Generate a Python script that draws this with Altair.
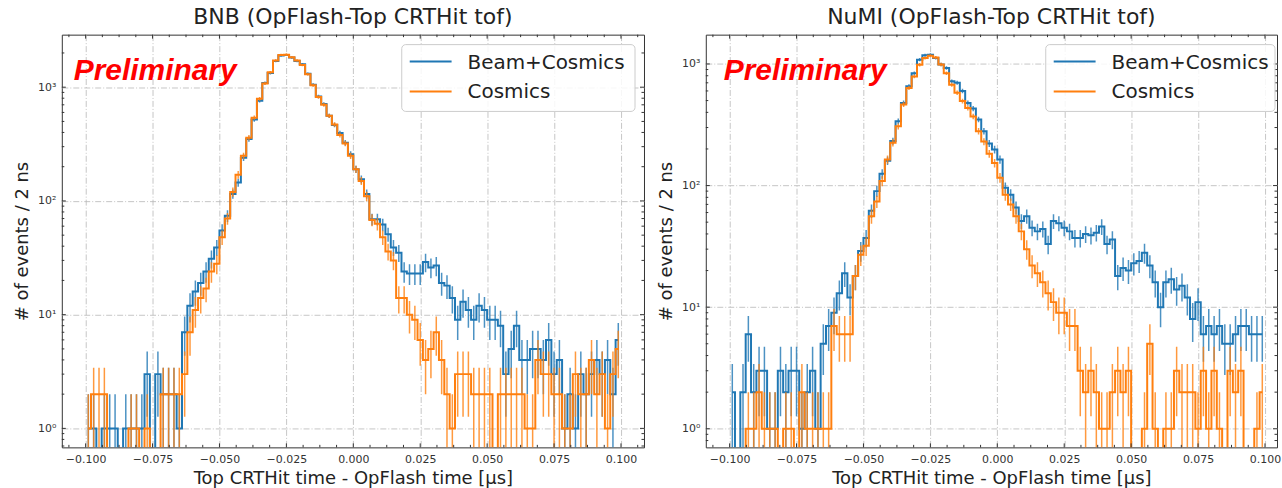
import altair as alt
import numpy as np
import pandas as pd

# ---------------- data (counts per 2 ns bin, 100 bins from -0.100 to 0.100 us) ----------------
bin_start = -0.1
bin_width = 0.002

bnb_beam = [1, 1, 0, 1, 1, 1, 0, 1, 1, 1, 1, 3, 0, 3, 2, 2, 2, 1, 7, 12, 16, 19, 24, 31, 39,
            55, 74, 115, 145, 240, 350, 520, 760, 1090, 1330, 1700, 1900, 1920, 1820, 1700, 1590,
            1310, 1050, 830, 710, 560, 465, 395, 325, 257, 190, 155, 115, 69, 69, 62, 51, 39,
            35, 24, 23, 23, 23, 29, 26, 27, 19, 18, 14, 9, 13, 11, 9, 12, 11, 9, 9, 8,
            3, 5, 8, 4, 4, 5, 5, 4, 6, 3, 4, 1, 2, 1, 3, 2, 3, 4, 3, 4, 2, 6]
bnb_cosm = [1, 2, 2, 2, 0, 0, 0, 0, 1, 1, 0, 1, 0, 0, 2, 2, 2, 2, 3, 7, 11, 14, 17, 24, 28,
            48, 70, 120, 170, 250, 360, 540, 790, 1080, 1350, 1720, 1920, 1930, 1830, 1720, 1570,
            1300, 1040, 820, 700, 560, 470, 380, 320, 250, 190, 150, 110, 68, 63, 48, 36, 30,
            14, 14, 10, 9, 6, 4, 5, 7, 4, 2, 1, 3, 3, 3, 2, 2, 2, 2, 0, 2,
            2, 2, 2, 2, 1, 1, 4, 3, 3, 2, 2, 1, 1, 3, 2, 2, 4, 2, 3, 1, 3, 5]
numi_beam = [2, 0, 2, 6, 2, 3, 3, 1, 1, 3, 2, 3, 3, 1, 2, 3, 1, 5, 7, 9, 13, 19, 12, 18, 29, 37,
             62, 90, 125, 160, 232, 338, 478, 655, 840, 1085, 1180, 1190, 1120, 990, 925,
             720, 700, 600, 478, 430, 350, 280, 222, 198, 164,
             96, 84, 66, 51, 56, 45, 42, 44, 33, 51, 49, 45, 42, 37, 37, 40, 39, 41, 46, 33,
             36, 18, 21, 20, 23, 24, 28, 22, 16, 10, 16, 17, 14, 15, 12, 8, 11, 6, 7, 6,
             7, 5, 5, 6, 7, 7, 6, 6, 6]
numi_cosm = [0, 0, 0, 1, 1, 2, 1, 1, 1, 0, 1, 1, 0, 2, 1, 1, 1, 1, 1, 7, 6, 6, 6, 18, 27, 32,
             56, 74, 109, 164, 225, 307, 465, 635, 790, 985, 1120, 1170, 1130, 990, 840,
             675, 580, 495, 435, 370, 280, 230, 183, 153, 116, 84, 70, 56, 42, 30,
             22, 19, 16, 13, 11, 9, 9, 7, 7,
             3, 2, 3, 2, 1, 1, 2, 3, 2, 3, 0, 0, 1, 5, 1, 0, 1, 1, 3, 2,
             2, 2, 1, 3, 1, 3, 1, 0, 3, 2, 3, 0, 0, 1, 2]

panel_titles = ["BNB (OpFlash-Top CRTHit tof)", "NuMI (OpFlash-Top CRTHit tof)"]
legend_labels = ["Beam+Cosmics", "Cosmics"]
x_title = "Top CRTHit time - OpFlash time [μs]"
y_title = "# of events / 2 ns"
x_major = [-0.1, -0.075, -0.05, -0.025, 0.0, 0.025, 0.05, 0.075, 0.1]
y_major = [1, 10, 100, 1000]

BLUE = "#1f77b4"
ORANGE = "#ff7f0e"
FLOOR = 0.05
FONT = "DejaVu Sans"


def hist_df(counts):
    c = np.asarray(counts, dtype=float)
    t = bin_start + bin_width * (np.arange(len(c)) + 0.5)
    e = np.sqrt(c)
    return pd.DataFrame({"t": t, "raw": c,
                         "n": np.maximum(c, FLOOR),
                         "lo": np.maximum(c - e, FLOOR),
                         "hi": c + e})


def minor_x(dom):
    vals = []
    for k in range(-20, 21):
        v = round(k * 0.00625, 6)
        if dom[0] <= v <= dom[1] and not any(abs(v - m) < 1e-9 for m in x_major):
            vals.append(v)
    return vals


def minor_y(dom):
    vals = []
    for d in range(-1, 4):
        for m in range(2, 10):
            v = m * 10 ** d
            if dom[0] <= v <= dom[1]:
                vals.append(v)
    return vals


def panel(title, beam, cosm, xdom, ydom, W, H, prelim_x, box_right):
    xs = alt.Scale(domain=xdom, nice=False, zero=False)
    ys = alt.Scale(type="log", domain=ydom, nice=False)
    xaxis = alt.Axis(values=x_major, format=".3f", grid=True, gridDash=[6, 2, 1, 2],
                     gridColor="#b8b8b8", gridWidth=0.8, ticks=False, domain=False,
                     labelFontSize=11, labelFont=FONT, labelColor="#333", labelPadding=6,
                     title=x_title, titleFont=FONT, titleFontSize=18, titleFontWeight="normal",
                     titleColor="#222", titlePadding=5)
    yaxis = alt.Axis(values=y_major,
                     labelExpr="datum.value == 1 ? '10⁰' : datum.value == 10 ? '10¹' : datum.value == 100 ? '10²' : '10³'",
                     grid=True, gridDash=[6, 2, 1, 2], gridColor="#b8b8b8", gridWidth=0.8,
                     ticks=False, domain=False, labelFontSize=11, labelFont=FONT,
                     labelColor="#333", labelPadding=6,
                     title=y_title, titleFont=FONT, titleFontSize=18, titleFontWeight="normal",
                     titleColor="#222", titlePadding=6)

    def X(f):
        return alt.X(f, type="quantitative", scale=xs, axis=xaxis)

    def Y(f):
        return alt.Y(f, type="quantitative", scale=ys, axis=yaxis)

    layers = []
    for counts, col in ((beam, BLUE), (cosm, ORANGE)):
        df = hist_df(counts)
        err = alt.Chart(df[df.raw > 0]).mark_rule(strokeWidth=1.5, opacity=0.8, clip=True, color=col).encode(
            x=X("t"), y=Y("lo"), y2="hi")
        line = alt.Chart(df).mark_line(interpolate="step", strokeWidth=2, clip=True, color=col).encode(
            x=X("t"), y=Y("n"))
        layers += [err, line]

    # inward ticks on all four sides
    xt_major = pd.DataFrame({"v": x_major})
    xt_minor = pd.DataFrame({"v": minor_x(xdom)})
    yt_major = pd.DataFrame({"v": y_major})
    yt_minor = pd.DataFrame({"v": minor_y(ydom)})
    for dfx, L in ((xt_major, 4), (xt_minor, 2.5)):
        for y0, y1 in ((H, H - L), (0, L)):
            layers.append(alt.Chart(dfx).mark_rule(color="#333", strokeWidth=1).encode(
                x=X("v"), y=alt.value(y0), y2=alt.value(y1)))
    for dfy, L in ((yt_major, 4), (yt_minor, 2.5)):
        for x0, x1 in ((0, L), (W, W - L)):
            layers.append(alt.Chart(dfy).mark_rule(color="#333", strokeWidth=1).encode(
                y=Y("v"), x=alt.value(x0), x2=alt.value(x1)))

    one = pd.DataFrame({"k": [0]})
    # legend
    layers.append(alt.Chart(one).mark_rect(cornerRadius=4, fill="white", fillOpacity=0.85,
                                           stroke="#cccccc", strokeWidth=1).encode(
        x=alt.value(341), x2=alt.value(box_right), y=alt.value(10), y2=alt.value(77)))
    for i, (lab, col) in enumerate(zip(legend_labels, (BLUE, ORANGE))):
        yy = 27 + 30 * i
        layers.append(alt.Chart(one).mark_rule(strokeWidth=2, color=col).encode(
            x=alt.value(349), x2=alt.value(391), y=alt.value(yy)))
        layers.append(alt.Chart(one).mark_text(align="left", baseline="middle", fontSize=20,
                                               font=FONT, color="#222").encode(
            x=alt.value(407), y=alt.value(yy + 1), text=alt.value(lab)))
    # Preliminary stamp
    layers.append(alt.Chart(one).mark_text(align="left", baseline="alphabetic", fontSize=30,
                                           font="Liberation Sans", fontWeight="bold",
                                           fontStyle="italic", color="#ff0000").encode(
        x=alt.value(prelim_x), y=alt.value(45), text=alt.value("Preliminary")))

    return alt.layer(*layers).properties(
        width=W, height=H,
        title=alt.TitleParams(title, font=FONT, fontSize=22, fontWeight="normal",
                              color="#222", offset=5, anchor="middle"))


left = panel(panel_titles[0], bnb_beam, bnb_cosm, [-0.1089, 0.1086], [0.681, 2897],
             584, 414, 12, 575)
right = panel(panel_titles[1], numi_beam, numi_cosm, [-0.1089, 0.1045], [0.703, 1742],
              573, 414, 18, 571)

chart = alt.hconcat(left, right, spacing=12).properties(
    padding={"left": 13, "top": 5, "right": 0, "bottom": 0},
    background="white",
).configure_view(stroke="#333", strokeWidth=1)

chart.save("out.html", embed_options={"renderer": "svg", "actions": False})
